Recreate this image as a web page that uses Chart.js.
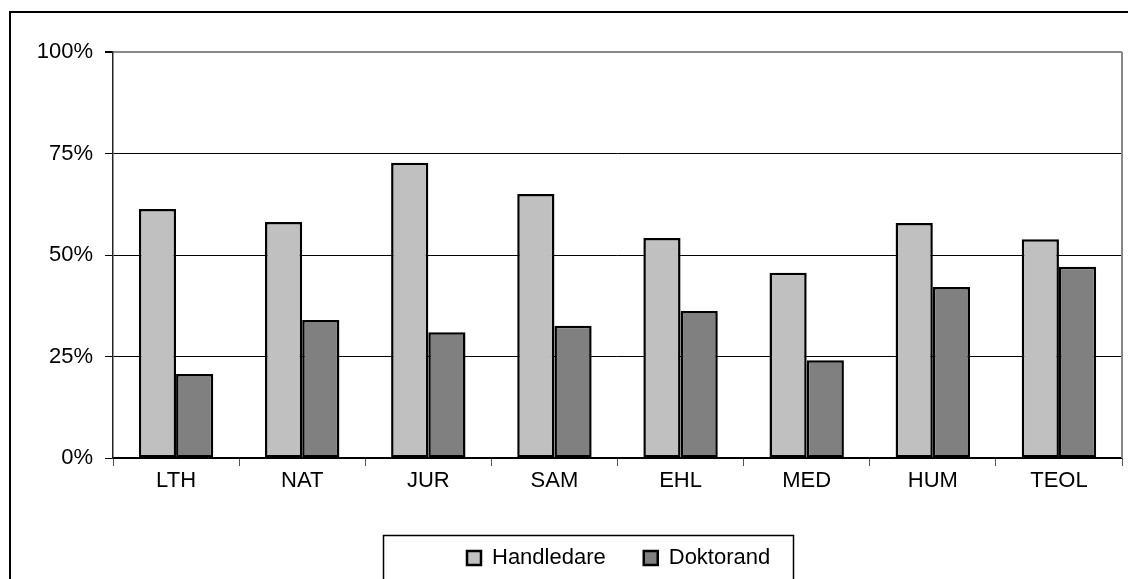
<!DOCTYPE html>
<html>
<head>
<meta charset="utf-8">
<script src="https://cdn.jsdelivr.net/npm/chart.js@4"></script>
<style>
  body { margin: 0; background: #fff; }
  canvas { display: block; }
</style>
</head>
<body>
<canvas id="myChart" width="1128" height="579"></canvas>
<script>
// data
const categories = ['LTH', 'NAT', 'JUR', 'SAM', 'EHL', 'MED', 'HUM', 'TEOL'];
const handledare = [61.3, 58.1, 72.7, 65.0, 54.2, 45.6, 57.9, 53.9];
const doktorand = [20.7, 34.0, 31.0, 32.6, 36.2, 24.1, 42.1, 47.1];
const yTicks = [0, 25, 50, 75, 100];

const fontFamily = '"Liberation Sans", Arial, sans-serif';

// frame around the whole chart, grey border of plot area, box round the legend
const framePlugin = {
    id: 'frame',
    afterLayout(chart) {
        // move legend items to where the reference has them
        const lg = chart.legend;
        lg.left = 429;
        lg.right = 1122;
    },
    beforeDraw(chart) {
        const ctx = chart.ctx;
        ctx.save();
        ctx.fillStyle = '#fff';
        ctx.fillRect(0, 0, chart.width, chart.height);
        ctx.restore();
    },
    afterDraw(chart) {
        const ctx = chart.ctx;
        const a = chart.chartArea;
        ctx.save();
        // right edge of plot area
        ctx.strokeStyle = '#888';
        ctx.lineWidth = 2;
        ctx.beginPath();
        ctx.moveTo(a.right, a.top);
        ctx.lineTo(a.right, a.bottom);
        ctx.stroke();
        // outer frame
        ctx.strokeStyle = '#000';
        ctx.lineWidth = 2;
        ctx.beginPath();
        ctx.moveTo(10, chart.height + 5);
        ctx.lineTo(10, 12);
        ctx.lineTo(chart.width + 5, 12);
        ctx.stroke();
        // legend box
        ctx.lineWidth = 1.5;
        ctx.strokeRect(383.5, 535.5, 410, 60);
        ctx.restore();
    }
};

const ctx = document.getElementById('myChart').getContext('2d');
new Chart(ctx, {
    type: 'bar',
    data: {
        labels: categories,
        datasets: [
            {
                label: 'Handledare',
                data: handledare,
                backgroundColor: '#c0c0c0',
                borderColor: '#000',
                borderWidth: 2.5,
                borderSkipped: false
            },
            {
                label: 'Doktorand',
                data: doktorand,
                backgroundColor: '#808080',
                borderColor: '#000',
                borderWidth: 2.5,
                borderSkipped: false
            }
        ]
    },
    options: {
        responsive: false,
        animation: false,
        categoryPercentage: 0.59,
        barPercentage: 1.0,
        layout: {
            padding: { left: 0, top: 52, right: 6, bottom: 0 }
        },
        plugins: {
            title: { display: false },
            tooltip: { enabled: false },
            legend: {
                position: 'bottom',
                align: 'start',
                labels: {
                    boxWidth: 14,
                    boxHeight: 14,
                    padding: 38,
                    color: '#000',
                    font: { family: fontFamily, size: 22 }
                }
            }
        },
        scales: {
            x: {
                grid: {
                    offset: true,
                    drawOnChartArea: false,
                    tickLength: 8,
                    tickColor: '#555'
                },
                border: { color: '#000', width: 1.5 },
                ticks: {
                    color: '#000',
                    padding: 2,
                    font: { family: fontFamily, size: 22 }
                },
                afterFit(scale) {
                    scale.height = 51;
                }
            },
            y: {
                min: 0,
                max: 100,
                afterBuildTicks(scale) {
                    scale.ticks = yTicks.map(v => ({ value: v }));
                },
                grid: {
                    color: c => c.tick && c.tick.value === 100 ? '#888' : '#000',
                    lineWidth: c => c.tick && c.tick.value === 100 ? 2 : 1,
                    tickLength: 8,
                    tickColor: '#000'
                },
                border: { color: '#222', width: 1.5 },
                ticks: {
                    color: '#000',
                    padding: 12,
                    font: { family: fontFamily, size: 22 },
                    callback: v => v + '%'
                },
                afterFit(scale) {
                    scale.width = 113;
                }
            }
        }
    },
    plugins: [framePlugin]
});
</script>
</body>
</html>
